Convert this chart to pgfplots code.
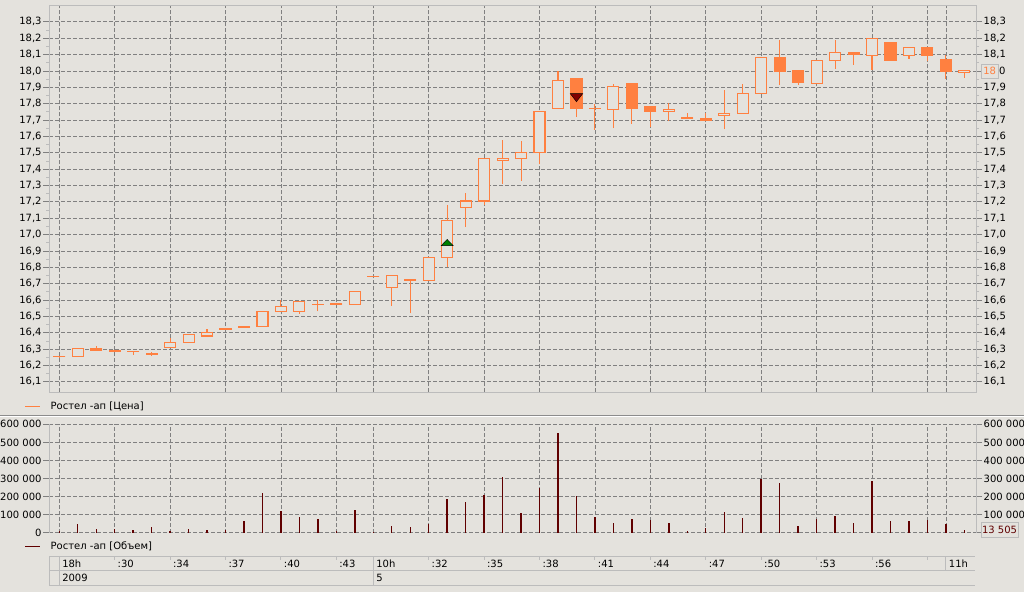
\documentclass[border=0pt]{standalone}
\usepackage{fontspec}
\setmainfont{DejaVu Sans}
\usepackage{pgfplots}
\usepackage{pgfplotstable}
\pgfplotsset{compat=1.18}
\definecolor{bg}{RGB}{228,226,221}
\definecolor{candle}{RGB}{255,128,64}
\definecolor{vol}{RGB}{96,0,0}
\definecolor{gridc}{RGB}{128,128,128}
\definecolor{framec}{RGB}{188,188,188}
\definecolor{buyc}{RGB}{0,128,0}
\definecolor{sellc}{RGB}{128,0,0}

\pgfplotstableread{
i O H L C V
0 16.255 16.255 16.245 16.255 8000
1 16.255 16.305 16.255 16.305 48000
2 16.305 16.318 16.290 16.290 20000
3 16.293 16.293 16.283 16.283 20000
4 16.285 16.285 16.265 16.285 15000
5 16.270 16.280 16.260 16.270 31000
6 16.310 16.365 16.310 16.340 11000
7 16.340 16.392 16.340 16.392 20000
8 16.380 16.425 16.380 16.400 15000
9 16.423 16.425 16.420 16.423 15000
10 16.430 16.440 16.430 16.440 65000
11 16.440 16.530 16.440 16.530 221000
12 16.530 16.600 16.530 16.560 120000
13 16.530 16.590 16.515 16.590 87000
14 16.570 16.600 16.530 16.570 76000
15 16.570 16.580 16.570 16.580 9000
16 16.570 16.650 16.570 16.650 125000
17 16.745 16.745 16.745 16.745 5000
18 16.675 16.750 16.565 16.750 37000
19 16.728 16.728 16.518 16.720 31000
20 16.720 16.860 16.720 16.860 48000
21 16.860 17.180 16.800 17.085 186000
22 17.165 17.255 17.045 17.205 172000
23 17.205 17.465 17.180 17.465 208000
24 17.453 17.575 17.308 17.465 308000
25 17.465 17.570 17.330 17.500 109000
26 17.500 17.752 17.430 17.752 247000
27 17.770 17.998 17.770 17.942 552000
28 17.955 17.955 17.720 17.770 205000
29 17.770 17.795 17.640 17.770 87000
30 17.765 17.920 17.650 17.905 54000
31 17.926 17.926 17.678 17.770 76000
32 17.784 17.784 17.657 17.753 72000
33 17.750 17.805 17.695 17.763 54000
34 17.718 17.742 17.710 17.710 11000
35 17.711 17.742 17.697 17.697 26000
36 17.728 17.885 17.643 17.742 114000
37 17.742 17.918 17.742 17.862 81000
38 17.860 18.082 17.860 18.082 297000
39 18.082 18.190 17.913 18.000 275000
40 18.000 18.000 17.913 17.928 37000
41 17.922 18.064 17.922 18.064 76000
42 18.064 18.190 18.012 18.113 92000
43 18.113 18.113 18.039 18.101 54000
44 18.095 18.200 18.004 18.200 286000
45 18.175 18.175 18.064 18.064 65000
46 18.095 18.144 18.074 18.144 65000
47 18.144 18.144 18.058 18.095 72000
48 18.070 18.095 17.953 18.000 48000
49 17.990 18.004 17.957 18.004 13505
}\candles

\tikzset{tl/.style={anchor=west, inner sep=0pt, xshift=2.8pt, font=\fontsize{10}{12}\selectfont}}
\pgfplotsset{
  lbl/.style={font=\fontsize{10}{12}\selectfont},
  priceaxis/.style={scale only axis, width=926.7pt, height=386.3pt,
    at={(49.3pt,199.7pt)}, anchor=south west,
    xmin=-0.54, xmax=49.63, ymin=16.036, ymax=18.397},
  volaxis/.style={scale only axis, width=926.7pt, height=108.4pt,
    at={(49.3pt,59.3pt)}, anchor=south west,
    xmin=-0.54, xmax=49.63, ymin=0, ymax=600000, scaled y ticks=false},
  gridticks/.style={xtick={0,3,6,9,12,15,17,20,23,26,29,32,35,38,41,44,47,48}},
  pticks/.style={ytick={16.1,16.2,16.3,16.4,16.5,16.6,16.7,16.8,16.9,17.0,17.1,17.2,17.3,17.4,17.5,17.6,17.7,17.8,17.9,18.0,18.1,18.2,18.3}},
}

\begin{document}
\begin{tikzpicture}
\fill[bg] (0pt,0pt) rectangle (1024pt,592pt);
% separator between panels
\draw[black!45, line width=1pt] (0pt,176.7pt) -- (1024pt,176.7pt);
\draw[white, line width=1pt] (0pt,175.7pt) -- (1024pt,175.7pt);

% ---------- price panel: grid, left labels, wicks
\begin{axis}[priceaxis, gridticks, pticks,
  yticklabels={{16,1},{16,2},{16,3},{16,4},{16,5},{16,6},{16,7},{16,8},{16,9},{17,0},{17,1},{17,2},{17,3},{17,4},{17,5},{17,6},{17,7},{17,8},{17,9},{18,0},{18,1},{18,2},{18,3}},
  axis line style={framec, line width=1pt},
  xticklabels={}, xtick style={draw=none},
  ytick pos=both, yticklabel pos=left,
  minor y tick num=1,
  tick align=outside, major tick length=6pt, minor tick length=3pt,
  ytick style={gridc, line width=0.8pt},
  minor y tick style={framec, line width=0.8pt},
  grid=major, grid style={gridc, dash pattern=on 4pt off 2pt, line width=0.8pt},
  tick label style={lbl}, yticklabel style={inner sep=1.5pt}]
\addplot[draw=none, mark=none,
  error bars/.cd, y dir=plus, y explicit, error mark=none,
  error bar style={draw=candle, solid, line width=1.1pt}]
  table[x=i, y=L, y error plus expr=\thisrow{H}-\thisrow{L}] {\candles};
\end{axis}

% ---------- price panel: candle bodies
\begin{axis}[priceaxis, hide axis, ybar stacked, bar width=11pt]
\addplot[draw=none, fill=none] table[x=i, y expr={min(\thisrow{O},\thisrow{C})}] {\candles};
\addplot[draw=candle, fill=bg, line width=1.1pt] table[x=i, y expr={max(\thisrow{C}-\thisrow{O},0)}] {\candles};
\addplot[draw=candle, fill=candle, line width=1.1pt] table[x=i, y expr={max(\thisrow{O}-\thisrow{C},0)}] {\candles};
\end{axis}

% ---------- price panel: open/close ticks (doji), signals and right labels
\begin{axis}[priceaxis, pticks, xtick=\empty,
  yticklabels={{16,1},{16,2},{16,3},{16,4},{16,5},{16,6},{16,7},{16,8},{16,9},{17,0},{17,1},{17,2},{17,3},{17,4},{17,5},{17,6},{17,7},{17,8},{17,9},{},{18,1},{18,2},{18,3}},
  axis line style={draw=none},
  ytick pos=right, yticklabel pos=right, ytick style={draw=none},
  tick align=outside, major tick length=6pt,
  tick label style={lbl}, yticklabel style={inner sep=1.5pt}]
\addplot[only marks, mark=-, mark size=6.05pt, mark options={draw=candle, line width=1.1pt}] table[x=i, y=O] {\candles};
\addplot[only marks, mark=-, mark size=6.05pt, mark options={draw=candle, line width=1.1pt}] table[x=i, y=C] {\candles};
\addplot[only marks, mark=triangle*, mark size=6.9pt, mark options={yscale=0.6, fill=buyc, draw=none}] coordinates {(21,16.945)};
\addplot[only marks, mark=triangle*, mark size=7.2pt, mark options={yscale=-0.75, fill=sellc, draw=none}] coordinates {(28,17.845)};
\end{axis}
\node[fill=bg, draw=framec, line width=1pt, minimum width=17.2pt, minimum height=14.3pt, inner sep=0pt,
  text=candle, font=\fontsize{10}{12}\selectfont] at (989.6pt,520.8pt) {18};
\node[anchor=west, inner sep=0pt, font=\fontsize{10}{12}\selectfont] at (998.8pt,520.8pt) {0};

% legend of price
\draw[candle, line width=1pt] (25pt,185.5pt) -- (40pt,185.5pt);
\node[anchor=west, inner sep=0pt, font=\fontsize{10}{12}\selectfont] at (50.5pt,186pt) {Ростел -ап [Цена]};

% ---------- volume panel
\begin{axis}[volaxis, gridticks,
  separate axis lines,
  x axis line style={draw=none},
  y axis line style={framec, line width=1pt},
  xticklabels={}, xtick style={draw=none},
  ytick={0,100000,200000,300000,400000,500000,600000},
  yticklabels={0,100 000,200 000,300 000,400 000,500 000,600 000},
  ytick pos=both, yticklabel pos=left,
  tick align=outside, major tick length=6pt,
  ytick style={gridc, line width=0.8pt},
  grid=major, grid style={gridc, dash pattern=on 4pt off 2pt, line width=0.8pt},
  tick label style={lbl}, yticklabel style={inner sep=1.5pt}]
\addplot[ycomb, vol, line width=1.4pt, mark=none] table[x=i, y=V] {\candles};
\end{axis}
\begin{axis}[volaxis, xtick=\empty,
  axis line style={draw=none},
  ytick={100000,200000,300000,400000,500000,600000},
  yticklabels={100 000,200 000,300 000,400 000,500 000,600 000},
  ytick pos=right, yticklabel pos=right, ytick style={draw=none},
  tick align=outside, major tick length=6pt,
  tick label style={lbl}, yticklabel style={inner sep=1.5pt}]
\end{axis}
\node[fill=bg, draw=framec, line width=1pt, minimum width=37pt, minimum height=14.6pt, inner sep=0pt,
  text=vol, font=\fontsize{10}{12}\selectfont] at (999.5pt,62pt) {13 505};

% legend of volume
\draw[vol, line width=1pt] (25pt,46pt) -- (40pt,46pt);
\node[anchor=west, inner sep=0pt, font=\fontsize{10}{12}\selectfont] at (50.5pt,45.5pt) {Ростел -ап [Объем]};

% ---------- time table
\begin{axis}[scale only axis, width=926.7pt, height=29.7pt, at={(49.3pt,6.3pt)}, anchor=south west,
  xmin=-0.54, xmax=49.63, ymin=0, ymax=2, hide axis, clip=false]
\draw[framec, line width=1pt] (axis cs:-0.54,2) -- (axis cs:49.58,2);
\draw[framec, line width=1pt] (axis cs:-0.54,1) -- (axis cs:49.58,1);
\draw[framec, line width=1pt] (axis cs:-0.54,0) -- (axis cs:49.58,0);
\draw[framec, line width=1pt] (axis cs:-0.54,0) -- (axis cs:-0.54,2);
\draw[framec, line width=1pt] (axis cs:0,0) -- (axis cs:0,2);
\draw[framec, line width=1pt] (axis cs:17,0) -- (axis cs:17,2);
\draw[framec, line width=1pt] (axis cs:48,1) -- (axis cs:48,2);
\pgfplotsinvokeforeach{3,6,9,12,15,20,23,26,29,32,35,38,41,44,47}{
  \draw[framec, line width=1pt] (axis cs:#1,2) -- ([yshift=-4pt]axis cs:#1,2);
}
\node[tl] at (axis cs:0,1.5) {18h};
\node[tl] at (axis cs:3,1.5) {:30};
\node[tl] at (axis cs:6,1.5) {:34};
\node[tl] at (axis cs:9,1.5) {:37};
\node[tl] at (axis cs:12,1.5) {:40};
\node[tl] at (axis cs:15,1.5) {:43};
\node[tl] at (axis cs:17,1.5) {10h};
\node[tl] at (axis cs:20,1.5) {:32};
\node[tl] at (axis cs:23,1.5) {:35};
\node[tl] at (axis cs:26,1.5) {:38};
\node[tl] at (axis cs:29,1.5) {:41};
\node[tl] at (axis cs:32,1.5) {:44};
\node[tl] at (axis cs:35,1.5) {:47};
\node[tl] at (axis cs:38,1.5) {:50};
\node[tl] at (axis cs:41,1.5) {:53};
\node[tl] at (axis cs:44,1.5) {:56};
\node[tl] at (axis cs:48,1.5) {11h};
\node[tl] at (axis cs:0,0.5) {2009};
\node[tl] at (axis cs:17,0.5) {5};
\end{axis}

\pgfresetboundingbox
\useasboundingbox (0pt,0pt) rectangle (1024pt,592pt);
\end{tikzpicture}
\end{document}
